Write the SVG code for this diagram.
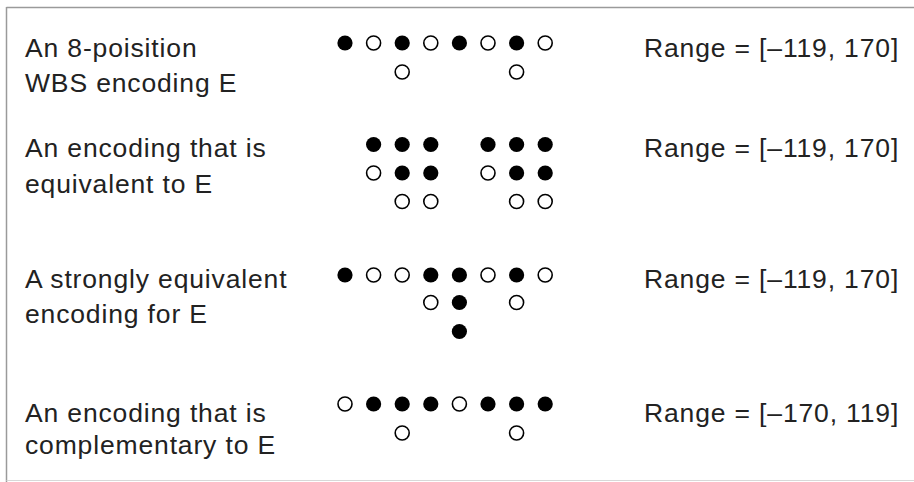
<svg xmlns="http://www.w3.org/2000/svg" xmlns:xlink="http://www.w3.org/1999/xlink" width="914" height="482" viewBox="0 0 914 482">
<style>
  .lbl { font-family: "Liberation Sans", Arial, sans-serif; font-size: 26.5px; fill: #222; letter-spacing: 0.85px; }
  .full { fill: #000; }
  .open { fill: #fff; stroke: #000; stroke-width: 1.6; }
</style>
<defs>
  <circle id="f" class="full" r="7.6"/>
  <circle id="o" class="open" r="7"/>
</defs>
<rect x="0" y="0" width="914" height="482" fill="#fff"/>
<g id="frame" fill="none">
  <line x1="6.5" y1="7.5" x2="914" y2="7.5" stroke="#9a9a9a" stroke-width="1.5"/>
  <line x1="6.5" y1="7" x2="6.5" y2="482" stroke="#9a9a9a" stroke-width="1.5"/>
  <line x1="6.5" y1="480.5" x2="914" y2="480.5" stroke="#d8d8d8" stroke-width="1"/>
</g>

<g id="row1">
  <text class="lbl" x="25" y="57">An 8-poisition</text>
  <text class="lbl" x="25" y="92">WBS encoding E</text>
  <g id="enc1">
    <use href="#f" x="345" y="43"/><use href="#o" x="373.6" y="43"/><use href="#f" x="402.2" y="43"/><use href="#o" x="430.8" y="43"/>
    <use href="#f" x="459.4" y="43"/><use href="#o" x="488" y="43"/><use href="#f" x="516.6" y="43"/><use href="#o" x="545.2" y="43"/>
    <use href="#o" x="402.2" y="72"/><use href="#o" x="516.6" y="72"/>
  </g>
  <text class="lbl" x="644" y="57">Range = [–119, 170]</text>
</g>

<g id="row2">
  <text class="lbl" x="25" y="157">An encoding that is</text>
  <text class="lbl" x="25" y="192.5">equivalent to E</text>
  <g id="enc2">
    <use href="#f" x="373.6" y="144.5"/><use href="#f" x="402.2" y="144.5"/><use href="#f" x="430.8" y="144.5"/>
    <use href="#f" x="488" y="144.5"/><use href="#f" x="516.6" y="144.5"/><use href="#f" x="545.2" y="144.5"/>
    <use href="#o" x="373.6" y="173"/><use href="#f" x="402.2" y="173"/><use href="#f" x="430.8" y="173"/>
    <use href="#o" x="488" y="173"/><use href="#f" x="516.6" y="173"/><use href="#f" x="545.2" y="173"/>
    <use href="#o" x="402.2" y="201.5"/><use href="#o" x="430.8" y="201.5"/>
    <use href="#o" x="516.6" y="201.5"/><use href="#o" x="545.2" y="201.5"/>
  </g>
  <text class="lbl" x="644" y="157">Range = [–119, 170]</text>
</g>

<g id="row3">
  <text class="lbl" x="25" y="288">A strongly equivalent</text>
  <text class="lbl" x="25" y="323">encoding for E</text>
  <g id="enc3">
    <use href="#f" x="345" y="275"/><use href="#o" x="373.6" y="275"/><use href="#o" x="402.2" y="275"/><use href="#f" x="430.8" y="275"/>
    <use href="#f" x="459.4" y="275"/><use href="#o" x="488" y="275"/><use href="#f" x="516.6" y="275"/><use href="#o" x="545.2" y="275"/>
    <use href="#o" x="430.8" y="302.5"/><use href="#f" x="459.4" y="302.5"/><use href="#o" x="516.6" y="302.5"/>
    <use href="#f" x="459.4" y="331.5"/>
  </g>
  <text class="lbl" x="644" y="288">Range = [–119, 170]</text>
</g>

<g id="row4">
  <text class="lbl" x="25" y="421.5">An encoding that is</text>
  <text class="lbl" x="25" y="454">complementary to E</text>
  <g id="enc4">
    <use href="#o" x="345" y="404"/><use href="#f" x="373.6" y="404"/><use href="#f" x="402.2" y="404"/><use href="#f" x="430.8" y="404"/>
    <use href="#o" x="459.4" y="404"/><use href="#f" x="488" y="404"/><use href="#f" x="516.6" y="404"/><use href="#f" x="545.2" y="404"/>
    <use href="#o" x="402.2" y="433"/><use href="#o" x="516.6" y="433"/>
  </g>
  <text class="lbl" x="644" y="421.5">Range = [–170, 119]</text>
</g>

<g id="connectors"></g>
</svg>
